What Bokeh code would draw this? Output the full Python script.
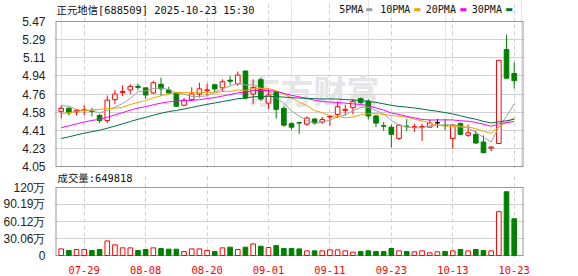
import pandas as pd
from bokeh.plotting import figure
from bokeh.layouts import column
from bokeh.models import ColumnDataSource, FixedTicker, Grid, Label
from bokeh.embed import file_html
from bokeh.resources import INLINE

dates = ["07-24", "07-25", "07-28", "07-29", "07-30", "07-31", "08-01", "08-04", "08-05", "08-06",
         "08-07", "08-08", "08-11", "08-12", "08-13", "08-14", "08-15", "08-18", "08-19", "08-20",
         "08-21", "08-22", "08-25", "08-26", "08-27", "08-28", "08-29", "09-01", "09-02", "09-03",
         "09-04", "09-05", "09-08", "09-09", "09-10", "09-11", "09-12", "09-15", "09-16", "09-17",
         "09-18", "09-19", "09-22", "09-23", "09-24", "09-25", "09-26", "09-29", "09-30", "10-09",
         "10-10", "10-13", "10-14", "10-15", "10-16", "10-17", "10-20", "10-21", "10-22", "10-23"]

opens = [4.59, 4.62, 4.585, 4.60, 4.595, 4.55, 4.50, 4.705, 4.775, 4.80,
         4.835, 4.82, 4.77, 4.855, 4.80, 4.77, 4.65, 4.705, 4.76, 4.795,
         4.85, 4.82, 4.895, 4.86, 4.985, 4.76, 4.90, 4.67, 4.775, 4.62,
         4.47, 4.48, 4.465, 4.515, 4.485, 4.535, 4.56, 4.60, 4.625, 4.715,
         4.69, 4.545, 4.45, 4.435, 4.325, 4.445, 4.435, 4.435, 4.435, 4.478,
         4.455, 4.325, 4.47, 4.356, 4.365, 4.29, 4.23, 4.275, 5.195, 4.96]
highs = [4.65, 4.63, 4.615, 4.65, 4.625, 4.565, 4.745, 4.80, 4.845, 4.855,
         4.86, 4.825, 4.89, 4.92, 4.83, 4.78, 4.72, 4.825, 4.87, 4.86,
         4.86, 4.905, 4.935, 4.98, 4.99, 4.905, 4.92, 4.81, 4.78, 4.64,
         4.48, 4.485, 4.54, 4.525, 4.535, 4.55, 4.685, 4.656, 4.71, 4.725,
         4.71, 4.555, 4.485, 4.46, 4.465, 4.515, 4.47, 4.47, 4.51, 4.515,
         4.515, 4.465, 4.48, 4.46, 4.40, 4.355, 4.25, 5.09, 5.34, 5.07]
lows = [4.52, 4.55, 4.55, 4.55, 4.54, 4.475, 4.475, 4.66, 4.74, 4.76,
        4.80, 4.71, 4.76, 4.745, 4.76, 4.635, 4.64, 4.695, 4.725, 4.745,
        4.78, 4.785, 4.85, 4.84, 4.71, 4.665, 4.69, 4.615, 4.52, 4.44,
        4.41, 4.37, 4.45, 4.46, 4.465, 4.45, 4.525, 4.55, 4.56, 4.665,
        4.51, 4.435, 4.40, 4.235, 4.31, 4.40, 4.39, 4.30, 4.43, 4.43,
        4.405, 4.225, 4.355, 4.34, 4.27, 4.18, 4.20, 4.27, 4.91, 4.815]
closes = [4.62, 4.575, 4.60, 4.605, 4.59, 4.50, 4.70, 4.76, 4.785, 4.835,
          4.825, 4.75, 4.87, 4.81, 4.77, 4.64, 4.70, 4.76, 4.81, 4.80,
          4.81, 4.88, 4.885, 4.945, 4.72, 4.825, 4.71, 4.75, 4.61, 4.455,
          4.435, 4.475, 4.525, 4.475, 4.51, 4.54, 4.635, 4.61, 4.685, 4.675,
          4.545, 4.475, 4.445, 4.365, 4.455, 4.44, 4.44, 4.44, 4.475, 4.478,
          4.45, 4.455, 4.365, 4.38, 4.28, 4.185, 4.24, 5.09, 4.915, 4.89]
# volume in 万 shares
volumes = [11.7, 8.8, 10.6, 10.6, 8.8, 10.6, 25.8, 18.8, 13.5, 13.5,
           8.8, 10.6, 13.5, 12.3, 11.2, 11.2, 7.0, 11.7, 11.7, 8.8,
           7.0, 13.5, 14.7, 10.6, 14.7, 20.5, 16.4, 14.1, 17.6, 12.3,
           12.3, 11.7, 8.2, 8.2, 8.2, 10.0, 10.0, 8.2, 5.9, 7.0,
           8.2, 7.0, 7.0, 12.3, 8.2, 7.0, 6.5, 8.2, 4.7, 6.5,
           7.0, 8.2, 10.6, 8.2, 10.6, 8.8, 8.2, 77.5, 112.7, 64.98]
# closes of the 29 sessions before the window (estimated, only feed the moving averages)
pre_closes = [4.08, 4.05, 4.10, 4.12, 4.09, 4.11, 4.13, 4.12, 4.15, 4.17,
              4.20, 4.22, 4.25, 4.27, 4.30, 4.28, 4.31, 4.33, 4.36, 4.42,
              4.46, 4.50, 4.49, 4.535, 4.45, 4.60, 4.75, 4.68, 4.575]

price_ticks = [4.05, 4.2275, 4.405, 4.5825, 4.76, 4.9375, 5.115, 5.2925, 5.47]
price_tick_labels = ["4.05", "4.23", "4.41", "4.58", "4.76", "4.94", "5.11", "5.29", "5.47"]
vol_ticks = [0, 30.06, 60.12, 90.19, 120.25]
vol_tick_labels = ["0", "30.06万", "60.12万", "90.19万", "120万"]
date_tick_idx = [3, 11, 19, 27, 35, 43, 51, 59]
title_text = "正元地信[688509] 2025-10-23 15:30"
vol_title = "成交量:649818"
watermark = "东方财富"
ma_names = ["5PMA", "10PMA", "20PMA", "30PMA"]
ma_windows = [5, 10, 20, 30]

MA_COLORS = ["#a0a0a0", "#f4a300", "#ff00ff", "#00703c"]
RED, GREEN, BLACK = "#ff0000", "#008000", "#000000"
GRID = "#d0d0d0"
FRAME = "#999999"
MONO = "DejaVu Sans Mono, Noto Sans CJK SC"

n = len(dates)
xs = list(range(n))
# plotting window in index units (frame 54..524 px, index 0 at 60.7 px, 7.678 px per session)
X0, X1 = -0.8726, 60.342
BOX_L, BOX_R = -0.677, 60.15
P_LO, P_HI = 4.05, 5.47
V_HI = 120.25

col, fill, vfill = [], [], []
for o, c in zip(opens, closes):
    if c > o:
        col.append(RED); fill.append("white"); vfill.append("white")
    elif c < o:
        col.append(GREEN); fill.append(GREEN); vfill.append(GREEN)
    else:
        col.append(BLACK); fill.append(BLACK); vfill.append("white")
vcol = [RED if c >= o else GREEN for o, c in zip(opens, closes)]

src = ColumnDataSource(dict(
    x=xs, o=opens, h=highs, l=lows, c=closes,
    top=[max(a, b) for a, b in zip(opens, closes)],
    bot=[min(a, b) for a, b in zip(opens, closes)],
    col=col, fill=fill, vol=volumes, vcol=vcol, vfill=vfill,
))

allc = pd.Series(pre_closes + closes)
ma = {w: allc.rolling(w).mean().iloc[-n:].tolist() for w in ma_windows}


def style_axis(ax, font, size, color):
    ax.axis_line_color = None
    ax.major_tick_line_color = None
    ax.minor_tick_line_color = None
    ax.major_label_standoff = 3
    ax.major_label_text_font = font
    ax.major_label_text_font_size = size
    ax.major_label_text_color = color


# ---------- price panel ----------
ppu = 145.0 / (P_HI - P_LO)
p1 = figure(width=578, height=173, x_range=(X0, X1),
            y_range=(P_LO - 2 / ppu, P_HI + 21 / ppu),
            output_backend="svg", toolbar_location=None, x_axis_location=None,
            min_border_left=54, min_border_right=54, min_border_top=0, min_border_bottom=5)
p1.outline_line_color = None
p1.yaxis.ticker = FixedTicker(ticks=price_ticks)
p1.yaxis.major_label_overrides = {t: l for t, l in zip(price_ticks, price_tick_labels)}
style_axis(p1.yaxis[0], "Liberation Sans", "12px", "#222222")
p1.ygrid.ticker = FixedTicker(ticks=price_ticks)
p1.ygrid.grid_line_color = GRID
p1.ygrid.bounds = (BOX_L, BOX_R)
p1.add_layout(Grid(dimension=0, ticker=FixedTicker(ticks=date_tick_idx), bounds=(P_LO, P_HI),
                   grid_line_color=GRID, grid_line_dash="4 3"))

p1.add_layout(Label(x=193, y=79, x_units="screen", y_units="screen", text=watermark,
                    text_font="Noto Sans CJK SC", text_font_size="33px", text_font_style="bold",
                    text_color="#e4e4e9", text_baseline="middle", level="underlay"))

p1.quad(left=[BOX_L], right=[BOX_R], bottom=[P_LO], top=[P_HI],
        fill_color=None, line_color=FRAME, line_width=1)
p1.segment(x0="x", x1="x", y0="l", y1="h", color="col", line_width=1, source=src)
p1.vbar(x="x", width=0.6, top="top", bottom="bot", fill_color="fill",
        line_color="col", line_width=1, source=src)
for w, c in zip(ma_windows, MA_COLORS):
    p1.line(xs, ma[w], color=c, line_width=1)

p1.add_layout(Label(x=2, y=159, x_units="screen", y_units="screen", text=title_text,
                    text_font=MONO, text_font_size="10.4px", text_color="#111111",
                    text_baseline="middle"))
leg_text_x = [284.7, 325.7, 371.3, 417.3]
leg_box_x = [310.7, 359.0, 405.0, 450.7]
for name, c, tx, bx in zip(ma_names, MA_COLORS, leg_text_x, leg_box_x):
    p1.add_layout(Label(x=tx, y=159, x_units="screen", y_units="screen", text=name,
                        text_font=MONO, text_font_size="10px", text_color="#111111",
                        text_baseline="middle"))
    p1.add_layout(Label(x=bx, y=159, x_units="screen", y_units="screen", text="▬",
                        text_font="DejaVu Sans", text_font_size="8px", text_color=c,
                        text_baseline="middle"))

# ---------- volume panel ----------
vpu = 68.0 / V_HI
p2 = figure(width=578, height=103, x_range=p1.x_range,
            y_range=(-2 / vpu, V_HI + 14 / vpu),
            output_backend="svg", toolbar_location=None,
            min_border_left=54, min_border_right=54, min_border_top=0, min_border_bottom=19)
p2.outline_line_color = None
p2.yaxis.ticker = FixedTicker(ticks=vol_ticks)
p2.yaxis.major_label_overrides = {t: l for t, l in zip(vol_ticks, vol_tick_labels)}
style_axis(p2.yaxis[0], "Liberation Sans", "12px", "#222222")
p2.xaxis.ticker = FixedTicker(ticks=date_tick_idx)
p2.xaxis.major_label_overrides = {i: dates[i] for i in date_tick_idx}
style_axis(p2.xaxis[0], "DejaVu Sans Mono", "10.4px", RED)
p2.xaxis.major_label_standoff = 2
p2.ygrid.ticker = FixedTicker(ticks=vol_ticks)
p2.ygrid.grid_line_color = GRID
p2.ygrid.bounds = (BOX_L, BOX_R)
p2.xgrid.ticker = FixedTicker(ticks=date_tick_idx)
p2.xgrid.grid_line_color = GRID
p2.xgrid.grid_line_dash = "4 3"
p2.xgrid.bounds = (0, V_HI)

p2.quad(left=[BOX_L], right=[BOX_R], bottom=[0], top=[V_HI],
        fill_color=None, line_color=FRAME, line_width=1)
p2.vbar(x="x", width=0.6, top="vol", bottom=0, fill_color="vfill",
        line_color="vcol", line_width=1, source=src)
p2.add_layout(Label(x=3, y=79.5, x_units="screen", y_units="screen", text=vol_title,
                    text_font=MONO, text_font_size="10.4px", text_color="#111111",
                    text_baseline="middle"))

layout = column(p1, p2, spacing=0)
open("out.html", "w").write(file_html(layout, INLINE))
